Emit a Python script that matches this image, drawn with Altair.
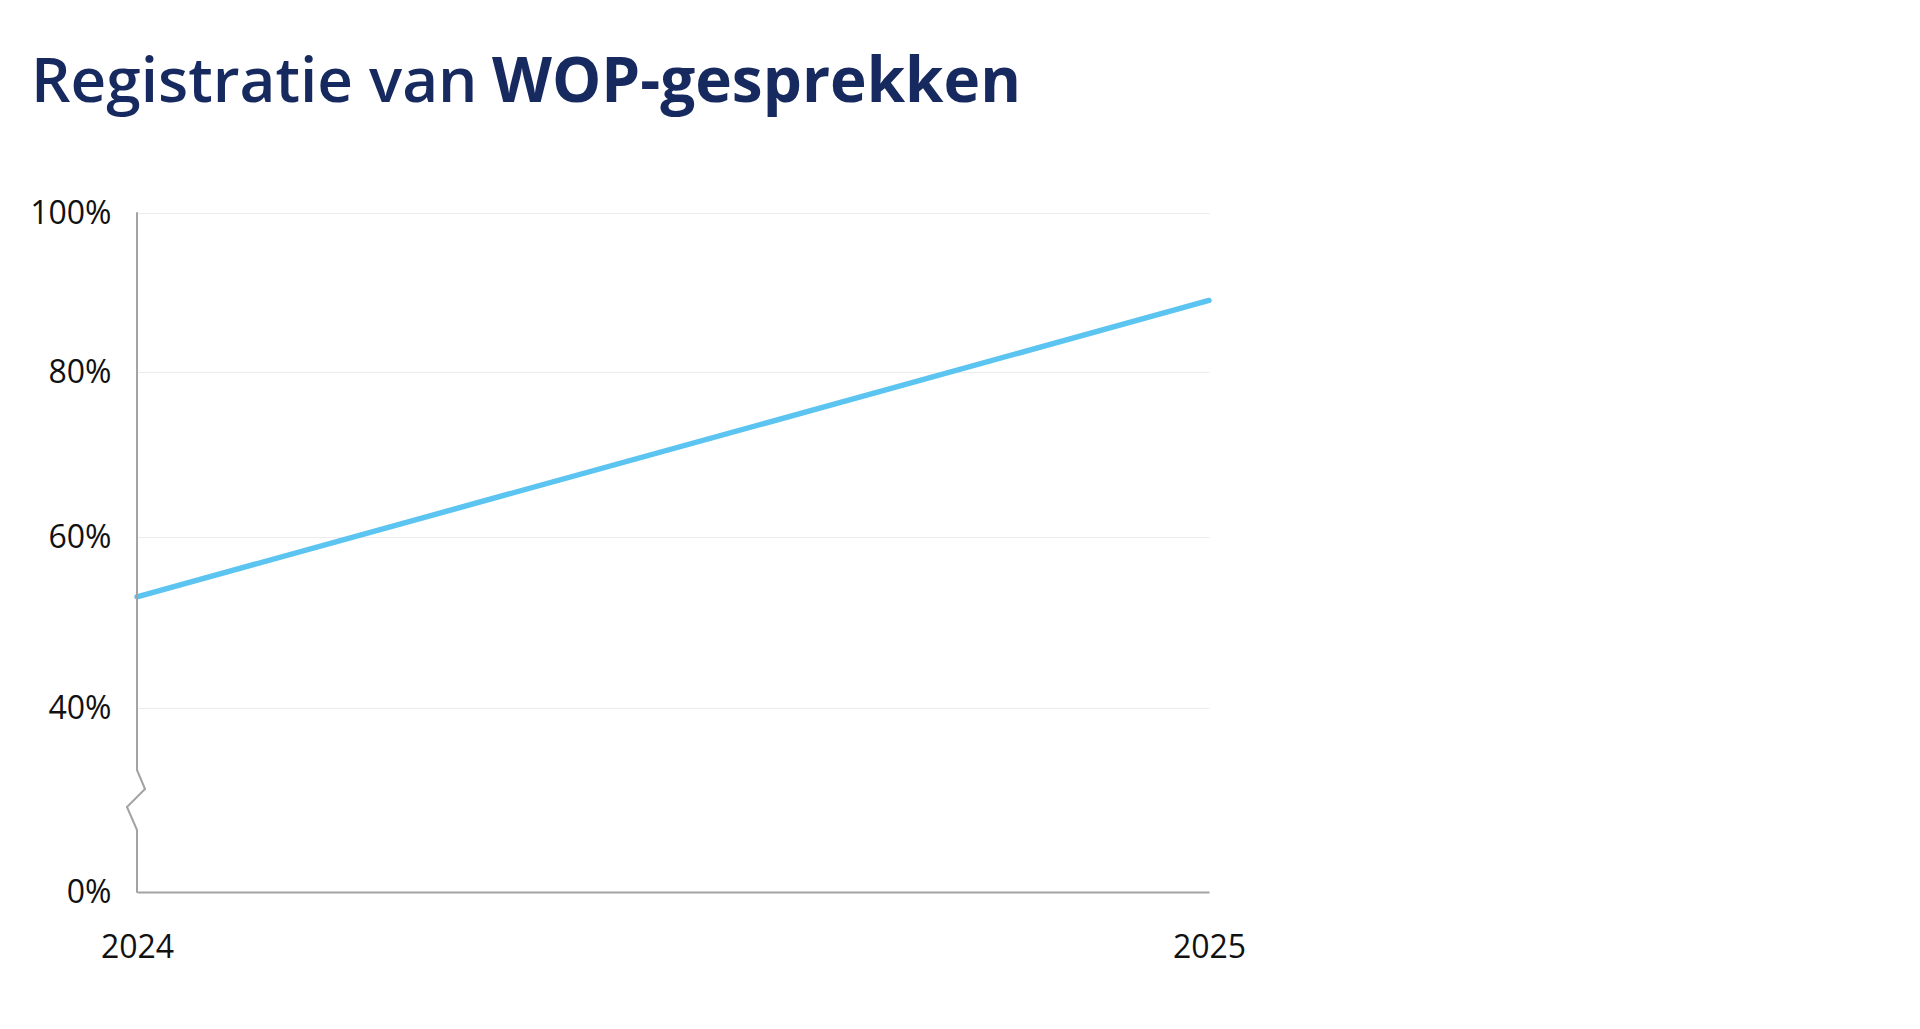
import altair as alt
import pandas as pd

# ---- data -------------------------------------------------------------
years = [2024, 2025]
shares = [53, 89]            # % geregistreerde WOP-gesprekken
x_ticks = [2024, 2025]
y_ticks = [0, 40, 60, 80, 100]
title_regular = "Registratie van"
title_bold = "WOP-gesprekken"

# ---- layout / style ---------------------------------------------------
W, H = 1072, 679
# the reference's y axis is broken between 0% and 40% (piecewise scale)
y_range = [679, 495, 324, 159, 0]
FONT = "Open Sans"
NAVY = "#172A5F"
AXIS_GREY = "#A3A3A3"
GRID_GREY = "#ECECEC"
LINE_BLUE = "#5BC4F1"

df = pd.DataFrame({"jaar": years, "aandeel": shares})
one = pd.DataFrame({"k": [0]})

x_enc = alt.X(
    "jaar:Q",
    scale=alt.Scale(domain=[years[0], years[-1]], nice=False, zero=False),
    axis=alt.Axis(
        values=x_ticks, format="d", title=None, grid=False, ticks=False, tickSize=0,
        domain=True, domainColor=AXIS_GREY, domainWidth=2,
        labelPadding=65, labelBaseline="alphabetic", labelAlign="center",
        labelFlush=False, labelOverlap=False,
        labelFontSize=32, labelColor="#111111", labelFont=FONT,
    ),
)
y_enc = alt.Y(
    "aandeel:Q",
    scale=alt.Scale(domain=y_ticks, range=y_range),
    axis=alt.Axis(
        values=y_ticks, labelExpr="datum.label + '%'", title=None,
        grid=True, gridColor=GRID_GREY, gridWidth=1,
        ticks=False, tickSize=0, domain=False,
        labelPadding=26, labelFontSize=32, labelColor="#111111", labelFont=FONT,
        labelOverlap=False, labelFlush=False,
    ),
)

line = alt.Chart(df).mark_line(
    color=LINE_BLUE, strokeWidth=5.5, strokeCap="round"
).encode(x=x_enc, y=y_enc)

# y-axis line with break symbol (decoration, pixel segments)
axis_path = [(0, 0), (0, 557), (8, 576), (-10, 594), (0, 617), (0, 679)]
rules = []
for (xa, ya), (xb, yb) in zip(axis_path[:-1], axis_path[1:]):
    rules.append(
        alt.Chart(one).mark_rule(color=AXIS_GREY, strokeWidth=2, strokeCap="round").encode(
            x=alt.value(xa), x2=alt.value(xb), y=alt.value(ya), y2=alt.value(yb)
        )
    )

t1 = alt.Chart(one).mark_text(
    align="left", baseline="alphabetic", font=FONT, fontSize=62, fontWeight=600, color=NAVY
).encode(x=alt.value(-106), y=alt.value(-111), text=alt.value(title_regular))
t2 = alt.Chart(one).mark_text(
    align="left", baseline="alphabetic", font=FONT, fontSize=62, fontWeight=700, color=NAVY
).encode(x=alt.value(355), y=alt.value(-111), text=alt.value(title_bold))

chart = alt.layer(line, *rules, t1, t2).properties(
    width=W, height=H,
    padding={"left": 129, "top": 205, "right": 60, "bottom": 110},
    autosize="none",
    background="white",
).configure_view(stroke=None)

chart.save("out.html", embed_options={"renderer": "svg", "actions": False})
